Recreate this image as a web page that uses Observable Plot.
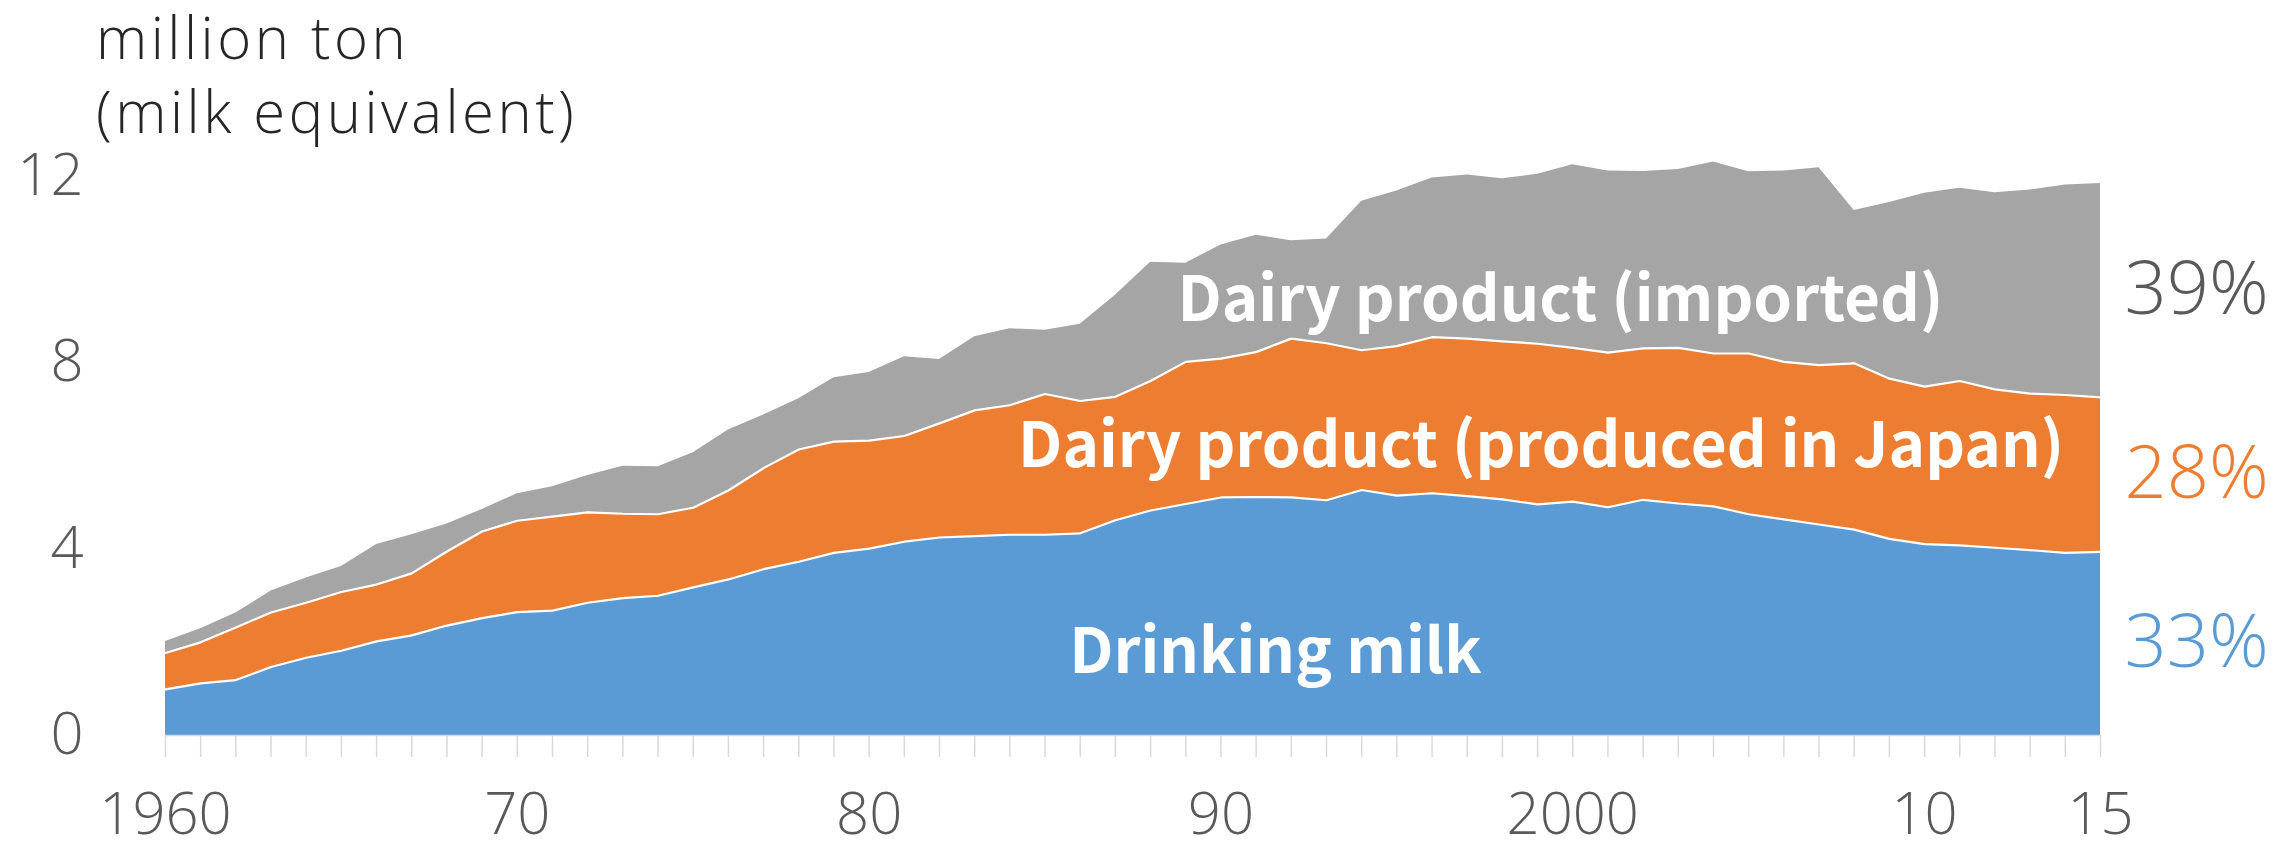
<!DOCTYPE html>
<html><head><meta charset="utf-8">
<script src="https://cdn.jsdelivr.net/npm/d3@7"></script>
<script src="https://cdn.jsdelivr.net/npm/@observablehq/plot@0.6"></script>
<style>
body{margin:0;background:#fff;}
#wrap{position:relative;width:2290px;height:852px;}
#title{position:absolute;left:96px;top:0px;font-family:"Open Sans";font-weight:300;font-size:58px;line-height:74px;letter-spacing:3.5px;color:#262626;white-space:nowrap;}
</style></head><body>
<div id="wrap"></div>
<script>
const years = [1960,1961,1962,1963,1964,1965,1966,1967,1968,1969,1970,1971,1972,1973,1974,1975,1976,1977,1978,1979,
  1980,1981,1982,1983,1984,1985,1986,1987,1988,1989,1990,1991,1992,1993,1994,1995,1996,1997,1998,1999,
  2000,2001,2002,2003,2004,2005,2006,2007,2008,2009,2010,2011,2012,2013,2014,2015];
const drinkingMilk = [0.99,1.12,1.19,1.47,1.67,1.82,2.02,2.15,2.36,2.52,2.65,2.68,2.85,2.95,3.00,3.18,3.35,3.57,3.73,3.92,
  4.01,4.16,4.25,4.28,4.31,4.31,4.34,4.62,4.83,4.97,5.11,5.12,5.11,5.05,5.27,5.15,5.20,5.14,5.07,4.96,
  5.02,4.90,5.06,4.98,4.92,4.75,4.64,4.53,4.42,4.22,4.11,4.08,4.03,3.98,3.92,3.94];
const dairyDomestic = [0.78,0.88,1.13,1.17,1.18,1.26,1.22,1.33,1.59,1.86,1.96,2.02,1.94,1.81,1.75,1.71,1.91,2.17,2.41,2.39,
  2.32,2.27,2.45,2.70,2.78,3.02,2.84,2.65,2.78,3.05,2.98,3.11,3.41,3.37,3.00,3.21,3.35,3.38,3.39,3.45,
  3.30,3.32,3.25,3.34,3.28,3.45,3.38,3.42,3.57,3.44,3.38,3.53,3.40,3.36,3.39,3.32];
const dairyImported = [0.25,0.29,0.31,0.46,0.53,0.55,0.86,0.83,0.59,0.47,0.58,0.64,0.79,1.02,1.02,1.18,1.30,1.14,1.09,1.37,
  1.46,1.70,1.37,1.58,1.64,1.37,1.65,2.18,2.55,2.12,2.44,2.51,2.10,2.24,3.20,3.33,3.42,3.51,3.49,3.64,
  3.93,3.90,3.80,3.83,4.11,3.90,4.10,4.24,3.28,3.78,4.15,4.14,4.22,4.37,4.51,4.59];

const seriesNames = ["Drinking milk", "Dairy product (produced in Japan)", "Dairy product (imported)"];
const seriesColors = ["#5B9BD5", "#ED7D31", "#A5A5A5"];
const shareLabels = ["33%", "28%", "39%"];
const shareColors = ["#5B9BD5", "#ED7D31", "#595959"];
const yTicks = [0, 4, 8, 12];
const xLabelYears = [1960, 1970, 1980, 1990, 2000, 2010, 2015];
const xLabelTexts = ["1960", "70", "80", "90", "2000", "10", "15"];

const seriesValues = [drinkingMilk, dairyDomestic, dairyImported];
const rows = [];
seriesNames.forEach((s, k) => years.forEach((yr, i) => rows.push({year: yr, series: s, value: seriesValues[k][i]})));
const colorOf = new Map(seriesNames.map((s, i) => [s, seriesColors[i]]));
const shareOf = new Map(seriesNames.map((s, i) => [s, shareLabels[i]]));
const shareColorOf = new Map(seriesNames.map((s, i) => [s, shareColors[i]]));
const xLabelOf = new Map(xLabelYears.map((y, i) => [y, xLabelTexts[i]]));
const lastYear = years[years.length - 1];

const font = "'Noto Sans CJK JP', 'Noto Sans', sans-serif";
const lightFont = "'Open Sans', 'Noto Sans', sans-serif";
const stackOpts = {x: "year", y: "value", z: "series", order: seriesNames};

const chart = Plot.plot({
  width: 2290, height: 852,
  marginLeft: 165, marginRight: 190, marginTop: 176, marginBottom: 117,
  style: {fontFamily: font, background: "white", overflow: "visible"},
  x: {domain: [1960, 2015], label: null},
  y: {domain: [0, 12], label: null},
  color: {type: "identity"},
  marks: [
    Plot.areaY(rows, Plot.stackY({...stackOpts, fill: d => colorOf.get(d.series)})),
    Plot.lineY(rows, Plot.stackY2({...stackOpts, filter: d => d.series !== seriesNames[2], stroke: "white", strokeWidth: 2.2})),
    Plot.axisX({ticks: years, tickSize: 22, stroke: "#d9d9d9", strokeWidth: 1.5, tickFormat: () => "", label: null}),
    Plot.ruleY([0], {stroke: "#d9d9d9", strokeWidth: 1.5}),
    Plot.axisX({ticks: xLabelYears, tickSize: 0, tickPadding: 57, tickFormat: d => xLabelOf.get(d), label: null,
      fontSize: 58, fill: "#595959", fontWeight: 300, fontFamily: lightFont}),
    Plot.axisY({ticks: yTicks, tickSize: 0, tickPadding: 82, label: null, fontSize: 58, fill: "#595959", fontWeight: 300, fontFamily: lightFont}),
    Plot.text(rows, Plot.stackY({...stackOpts, filter: d => d.year === lastYear, text: d => shareOf.get(d.series),
      fill: d => shareColorOf.get(d.series), textAnchor: "start", dx: 24, fontSize: 74, fontWeight: 300, fontFamily: lightFont})),
    Plot.text([seriesNames[0]], {x: 1991.55, y: 1.76, text: d => d, fill: "white", fontSize: 62, fontWeight: 700}),
    Plot.text([seriesNames[1]], {x: 1999.1, y: 6.2, text: d => d, fill: "white", fontSize: 62, fontWeight: 700}),
    Plot.text([seriesNames[2]], {x: 1999.65, y: 9.33, text: d => d, fill: "white", fontSize: 62, fontWeight: 700})
  ]
});
const wrap = document.getElementById("wrap");
wrap.appendChild(chart);
const t = document.createElement("div");
t.id = "title";
t.innerHTML = "million ton<br>(milk equivalent)";
wrap.appendChild(t);
</script>
</body></html>
